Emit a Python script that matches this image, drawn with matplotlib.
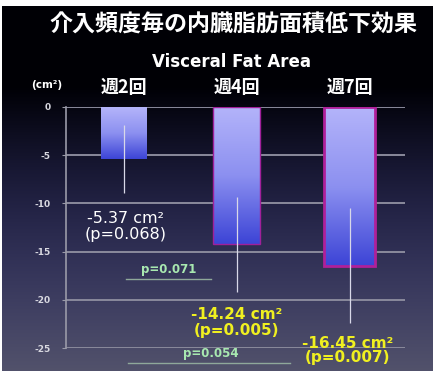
import numpy as np
import matplotlib
matplotlib.use("Agg")
import matplotlib.pyplot as plt
from matplotlib.colors import LinearSegmentedColormap

plt.rcParams['font.family'] = ['DejaVu Sans', 'Noto Sans CJK JP']

# ---- data ----
categories = ["週2回", "週4回", "週7回"]
values = [-5.37, -14.24, -16.45]
errors = [3.5, 4.9, 6.0]
value_labels = ["-5.37 cm²\n(p=0.068)", "-14.24 cm²\n(p=0.005)", "-16.45 cm²\n(p=0.007)"]
yticks = [0, -5, -10, -15, -20, -25]
comparisons = [("p=0.071", 0.02, 0.77, -17.85), ("p=0.054", 0.04, 1.47, -26.55)]
title = "介入頻度毎の内臓脂肪面積低下効果"
subtitle = "Visceral Fat Area"
unit = "(cm²)"

W, H = 439, 371
fig = plt.figure(figsize=(W / 100, H / 100), dpi=100)
fig.patch.set_facecolor("white")

# background gradient
bg = fig.add_axes([0.005, 0, 0.986 - 0.005, 1 - 6 / H])
bg.set_axis_off()
rows = np.linspace(0, 1, 256)
cols = []
for r in rows:  # r=0 top
    t = max(0.0, (r - 0.22) / 0.78)
    c = np.array([0.0, 0.0, 0.02]) + t * (np.array([0.32, 0.32, 0.42]) - np.array([0.0, 0.0, 0.02]))
    c[2] += 0.08 * np.sin(np.pi * t) * (1 if t > 0 else 0)
    cols.append(c)
img = np.array(cols)[:, None, :]
bg.imshow(img, aspect="auto", extent=[0, 1, 0, 1], interpolation="bilinear")
bg.set_xlim(0, 1)
bg.set_ylim(0, 1)

# main axes
ax = fig.add_axes([66 / W, 1 - 348 / H, (405 - 66) / W, (348 - 107) / H])
ax.patch.set_alpha(0)
x = np.arange(len(categories))
ax.set_xlim(-0.51, 2.49)
ax.set_ylim(-25, 0)

ax.set_yticks(yticks)
ax.set_yticklabels([str(t) for t in yticks])
ax.tick_params(axis="y", colors="#9a9aa8", labelcolor="#d8d8e0", labelsize=6.5,
               length=3, width=0.8, pad=8, direction="out")
for lab in ax.get_yticklabels():
    lab.set_fontweight("bold")
ax.grid(axis="y", color="#8a8a9c", lw=1.4, zorder=0)
ax.set_axisbelow(True)
for s in ["top", "right", "bottom"]:
    ax.spines[s].set_visible(False)
ax.spines["left"].set_color("#9a9aa8")
ax.spines["left"].set_linewidth(1.2)

ax.xaxis.tick_top()
ax.set_xticks(x)
ax.set_xticklabels(categories, fontsize=13, fontweight="bold", color="white",
                   family=["Noto Sans CJK JP", "DejaVu Sans"])
ax.tick_params(axis="x", length=0, pad=7)

widths = [0.40, 0.41, 0.45]
edgecolors = ["none", "#a0209a", "#b0209a"]
lws = [0, 1.0, 2.0]
bars = ax.bar(x, values, width=widths, color="none", edgecolor=edgecolors, linewidth=lws, zorder=3)
cmap = LinearSegmentedColormap.from_list("barg", ["#b4b4fa", "#8c90f0", "#3c44d6"])
grad = np.linspace(0, 1, 256)[:, None]
for b in bars:
    x0, y0 = b.get_x(), b.get_y()
    w, h = b.get_width(), b.get_height()
    top, bot = max(y0, y0 + h), min(y0, y0 + h)
    im = ax.imshow(grad, cmap=cmap, aspect="auto", extent=[x0, x0 + w, bot, top],
                   origin="upper", zorder=2, interpolation="bilinear")
    im.set_clip_path(b)
ax.set_xlim(-0.51, 2.49)
ax.set_ylim(-25, 0)

ax.errorbar(x, values, yerr=errors, fmt="none", ecolor="#d8d8e8", elinewidth=0.9,
            capsize=0, zorder=4)

# value labels
ax.text(x[0] + 0.02, -12.4, value_labels[0], color="white", fontsize=11.5, ha="center",
        va="center", linespacing=1.05, clip_on=False, zorder=5)
ax.text(x[1], -22.35, value_labels[1], color="#f0f020", fontsize=11, fontweight="bold",
        ha="center", va="center", linespacing=1.05, clip_on=False, zorder=5)
ax.text(x[2] - 0.02, -25.25, value_labels[2], color="#f0f020", fontsize=11, fontweight="bold",
        ha="center", va="center", linespacing=0.95, clip_on=False, zorder=5)

offsets = [0.0, 0.0]
for (label, xa, xb, yl), off in zip(comparisons, offsets):
    ax.plot([xa, xb], [yl, yl], color="#8fa89a", lw=1.0, clip_on=False, zorder=5)
    cx = (xa + xb) / 2 if xb < 1 else 0.77
    ax.text(cx, yl + 0.95, label, color="#a8e8b0",
            fontsize=8.5, fontweight="bold", ha="center", va="center", clip_on=False, zorder=5)

fig.text(47 / W, 1 - 85 / H, unit, color="white", fontsize=7.5, fontweight="bold",
         ha="center", va="center")
fig.text(233 / W, 1 - 25 / H, title, color="white", fontsize=16.6, fontweight="bold",
         ha="center", va="center", family=["Noto Sans CJK JP", "DejaVu Sans"])
fig.text(232 / W, 1 - 62 / H, subtitle, color="white", fontsize=12, fontweight="bold",
         ha="center", va="center")

fig.savefig("out.png", dpi=100, facecolor=fig.get_facecolor())
